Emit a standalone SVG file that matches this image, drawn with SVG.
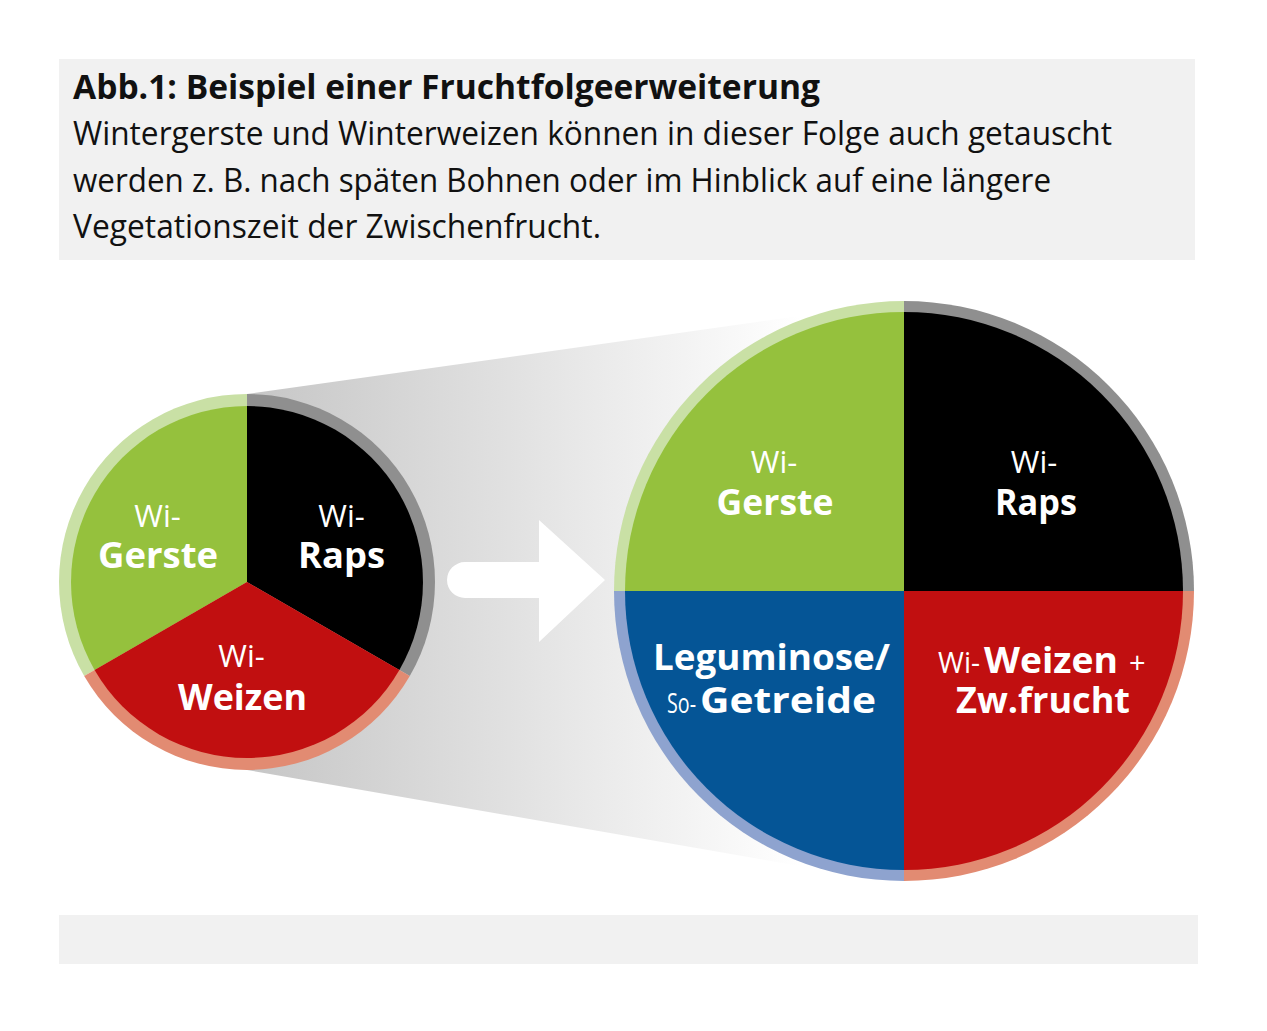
<svg xmlns="http://www.w3.org/2000/svg" width="1267" height="1031" viewBox="0 0 1267 1031">
<style>
  .t { font-family: "Open Sans", "Liberation Sans", sans-serif; fill: #111; }
  .lbl { font-family: "Open Sans", "Liberation Sans", sans-serif; fill: #fff; }
  .reg { font-weight: 400; font-size: 31px; }
  .bold { font-weight: 700; font-size: 35px; }
  .mid { text-anchor: middle; }
  .panel { fill: #f1f1f1; }
</style>
<defs>
  <linearGradient id="funnelGrad" gradientUnits="userSpaceOnUse" x1="247" y1="0" x2="800" y2="0">
    <stop offset="0" stop-color="#c6c6c6"/>
    <stop offset="1" stop-color="#ffffff"/>
  </linearGradient>
</defs>
<rect width="1267" height="1031" fill="#ffffff"/>

<g id="header">
  <rect class="panel" x="59" y="59" width="1136" height="201"/>
  <text class="t" x="73" y="99" font-size="34" font-weight="700" textLength="747" lengthAdjust="spacingAndGlyphs">Abb.1: Beispiel einer Fruchtfolgeerweiterung</text>
  <text class="t" x="73" y="145" font-size="33" textLength="1039" lengthAdjust="spacingAndGlyphs">Wintergerste und Winterweizen können in dieser Folge auch getauscht</text>
  <text class="t" x="73" y="191.5" font-size="33" textLength="978" lengthAdjust="spacingAndGlyphs">werden z. B. nach späten Bohnen oder im Hinblick auf eine längere</text>
  <text class="t" x="73" y="238" font-size="33" textLength="528" lengthAdjust="spacingAndGlyphs">Vegetationszeit der Zwischenfrucht.</text>
</g>

<g id="footer">
  <rect class="panel" x="59" y="915" width="1139" height="49"/>
</g>

<g id="funnel">
  <polygon points="247,394 800,316 800,866 247,770" fill="url(#funnelGrad)"/>
</g>

<g id="small-pie">
  <path d="M247,582 L247,394 A188,188 0 0 0 84.2,676 Z" fill="#c9e0a5"/>
  <path d="M247,582 L247,394 A188,188 0 0 1 409.8,676 Z" fill="#8f8f8f"/>
  <path d="M247,582 L409.8,676 A188,188 0 0 1 84.2,676 Z" fill="#e28b72"/>
  <path d="M247,582 L247,406 A176,176 0 0 0 94.6,670 Z" fill="#95c13d"/>
  <path d="M247,582 L247,406 A176,176 0 0 1 399.4,670 Z" fill="#000000"/>
  <path d="M247,582 L399.4,670 A176,176 0 0 1 94.6,670 Z" fill="#c10f10"/>
  <text class="lbl reg mid" x="157.5" y="527">Wi-</text>
  <text class="lbl bold mid" x="158" y="568" textLength="120" lengthAdjust="spacingAndGlyphs">Gerste</text>
  <text class="lbl reg mid" x="341.5" y="527">Wi-</text>
  <text class="lbl bold mid" x="341.5" y="568" textLength="87" lengthAdjust="spacingAndGlyphs">Raps</text>
  <text class="lbl reg mid" x="241.5" y="667">Wi-</text>
  <text class="lbl bold mid" x="242.5" y="710" textLength="129" lengthAdjust="spacingAndGlyphs">Weizen</text>
</g>

<g id="big-pie">
  <path d="M904,591 L904,301 A290,290 0 0 0 614,591 Z" fill="#c9e0a5"/>
  <path d="M904,591 L904,301 A290,290 0 0 1 1194,591 Z" fill="#8f8f8f"/>
  <path d="M904,591 L1194,591 A290,290 0 0 1 904,881 Z" fill="#e28b72"/>
  <path d="M904,591 L904,881 A290,290 0 0 1 614,591 Z" fill="#8ea3cf"/>
  <path d="M904,591 L904,312 A279,279 0 0 0 625,591 Z" fill="#95c13d"/>
  <path d="M904,591 L904,312 A279,279 0 0 1 1183,591 Z" fill="#000000"/>
  <path d="M904,591 L1183,591 A279,279 0 0 1 904,870 Z" fill="#c10f10"/>
  <path d="M904,591 L904,870 A279,279 0 0 1 625,591 Z" fill="#055596"/>
  <text class="lbl reg mid" x="774" y="473">Wi-</text>
  <text class="lbl bold mid" x="775" y="515" textLength="117" lengthAdjust="spacingAndGlyphs">Gerste</text>
  <text class="lbl reg mid" x="1034" y="473">Wi-</text>
  <text class="lbl bold mid" x="1036" y="515" textLength="82" lengthAdjust="spacingAndGlyphs">Raps</text>
  <text class="lbl bold" x="653" y="670" font-size="34" textLength="237" lengthAdjust="spacingAndGlyphs">Leguminose/</text>
  <text class="lbl" x="667" y="713" font-size="28" textLength="29" lengthAdjust="spacingAndGlyphs">So-</text>
  <text class="lbl bold" x="700" y="713" font-size="34" textLength="176" lengthAdjust="spacingAndGlyphs">Getreide</text>
  <text class="lbl" x="938" y="673" font-size="29" textLength="42" lengthAdjust="spacingAndGlyphs">Wi-</text>
  <text class="lbl bold" x="984" y="673" font-size="34" textLength="134" lengthAdjust="spacingAndGlyphs">Weizen</text>
  <text class="lbl" x="1129" y="673" font-size="29">+</text>
  <text class="lbl bold" x="956" y="713" font-size="34" textLength="174" lengthAdjust="spacingAndGlyphs">Zw.frucht</text>
</g>

<g id="connectors">
  <path d="M465,562 L539,562 L539,520 L605,580 L539,642 L539,598 L465,598 A18,18 0 0 1 465,562 Z" fill="#ffffff"/>
</g>
</svg>
